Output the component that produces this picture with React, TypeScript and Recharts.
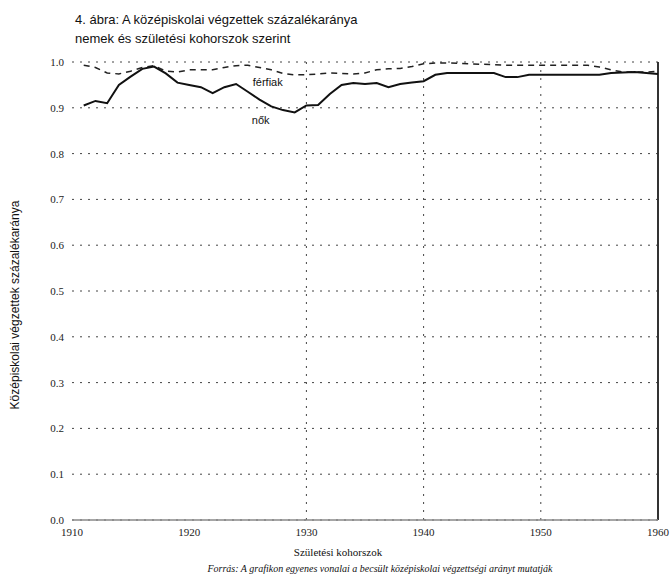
import React from 'react';
import { LineChart, Line, XAxis, YAxis, CartesianGrid, ReferenceLine, ReferenceDot } from 'recharts';

// születési évek (kohorszok)
const YEARS = [
  1911, 1912, 1913, 1914, 1915, 1916, 1917, 1918, 1919, 1920,
  1921, 1922, 1923, 1924, 1925, 1926, 1927, 1928, 1929, 1930,
  1931, 1932, 1933, 1934, 1935, 1936, 1937, 1938, 1939, 1940,
  1941, 1942, 1943, 1944, 1945, 1946, 1947, 1948, 1949, 1950,
  1951, 1952, 1953, 1954, 1955, 1956, 1957, 1958, 1959, 1960,
];

const NOK = [
  0.905, 0.915, 0.91, 0.95, 0.968, 0.985, 0.99, 0.975, 0.955, 0.95,
  0.945, 0.932, 0.945, 0.952, 0.935, 0.918, 0.903, 0.895, 0.89, 0.905,
  0.906, 0.93, 0.95, 0.954, 0.952, 0.954, 0.945, 0.952, 0.955, 0.958,
  0.972, 0.976, 0.976, 0.976, 0.976, 0.976, 0.967, 0.967, 0.972, 0.972,
  0.972, 0.972, 0.972, 0.972, 0.972, 0.976, 0.977, 0.978, 0.976, 0.974,
];

const FERFIAK = [
  0.993, 0.988, 0.976, 0.974, 0.98, 0.988, 0.992, 0.98, 0.978, 0.983,
  0.983, 0.983, 0.988, 0.992, 0.993, 0.988, 0.983, 0.975, 0.972, 0.972,
  0.974, 0.976, 0.975, 0.974, 0.976, 0.983, 0.985, 0.986, 0.99, 0.996,
  0.998, 0.998, 0.997, 0.996, 0.995, 0.994, 0.993, 0.993, 0.993, 0.993,
  0.993, 0.993, 0.993, 0.993, 0.989, 0.983, 0.978, 0.978, 0.978, 0.98,
];

const X_TICKS = [1910, 1920, 1930, 1940, 1950, 1960];
const Y_TICKS = [0, 0.1, 0.2, 0.3, 0.4, 0.5, 0.6, 0.7, 0.8, 0.9, 1.0];
const V_GRID = [1930, 1940, 1950];

const data = YEARS.map((year, i) => ({ year, nok: NOK[i], ferfiak: FERFIAK[i] }));

const serif = '"Liberation Serif", "DejaVu Serif", serif';
const sans = '"Liberation Sans", Arial, sans-serif';

const App: React.FC = () => {
  return (
    <div style={{ position: 'absolute', left: 0, top: 0, width: 672, height: 581, background: '#fff' }}>
      <div style={{ position: 'absolute', left: 75, top: 10, fontFamily: sans, fontSize: 13, lineHeight: '19px', color: '#111' }}>
        4. ábra: A középiskolai végzettek százalékaránya
        <br />
        nemek és születési kohorszok szerint
      </div>
      <LineChart width={672} height={581} data={data} margin={{ top: 62, right: 14, bottom: 31, left: 42 }}>
        <CartesianGrid vertical={false} stroke="#444" strokeDasharray="2 6" />
        <XAxis
          dataKey="year"
          type="number"
          domain={[1910, 1960]}
          ticks={X_TICKS}
          height={30}
          tickLine={false}
          axisLine={{ stroke: '#888', strokeWidth: 1.5 }}
          tick={{ fontFamily: serif, fontSize: 11, fill: '#222' }}
        />
        <YAxis
          width={30}
          domain={[0, 1]}
          ticks={Y_TICKS}
          tickFormatter={(v: number) => v.toFixed(1)}
          tickLine={false}
          axisLine={false}
          tick={{ fontFamily: serif, fontSize: 11, fill: '#222' }}
        />
        {V_GRID.map((x) => (
          <ReferenceLine key={x} x={x} stroke="#444" strokeDasharray="2 6" />
        ))}
        <ReferenceLine x={1960} stroke="#333" strokeWidth={2} />
        <Line type="linear" dataKey="ferfiak" stroke="#222" strokeWidth={1.5} strokeDasharray="6 5" dot={false} isAnimationActive={false} />
        <Line type="linear" dataKey="nok" stroke="#111" strokeWidth={2} dot={false} isAnimationActive={false} />
        <ReferenceDot x={1926.7} y={0.956} r={0} label={{ value: 'férfiak', position: 'center', fontFamily: sans, fontSize: 11, fill: '#111' }} />
        <ReferenceDot x={1926.1} y={0.873} r={0} label={{ value: 'nők', position: 'center', fontFamily: sans, fontSize: 11, fill: '#111' }} />
      </LineChart>
      <div
        style={{
          position: 'absolute',
          left: 8,
          top: 160,
          width: 14,
          height: 290,
          display: 'flex',
          alignItems: 'center',
          justifyContent: 'center',
        }}
      >
        <div style={{ transform: 'rotate(-90deg)', whiteSpace: 'nowrap', fontFamily: sans, fontSize: 12, color: '#111' }}>
          Középiskolai végzettek százalékaránya
        </div>
      </div>
      <div style={{ position: 'absolute', left: 0, width: 672, top: 546, textAlign: 'center', paddingLeft: 4, boxSizing: 'border-box', fontFamily: serif, fontSize: 11, color: '#111' }}>
        Születési kohorszok
      </div>
      <div style={{ position: 'absolute', left: 160, width: 440, top: 563, textAlign: 'center', fontFamily: serif, fontStyle: 'italic', fontSize: 10, color: '#111', whiteSpace: 'nowrap' }}>
        Forrás: A grafikon egyenes vonalai a becsült középiskolai végzettségi arányt mutatják
      </div>
    </div>
  );
};

export default App;
